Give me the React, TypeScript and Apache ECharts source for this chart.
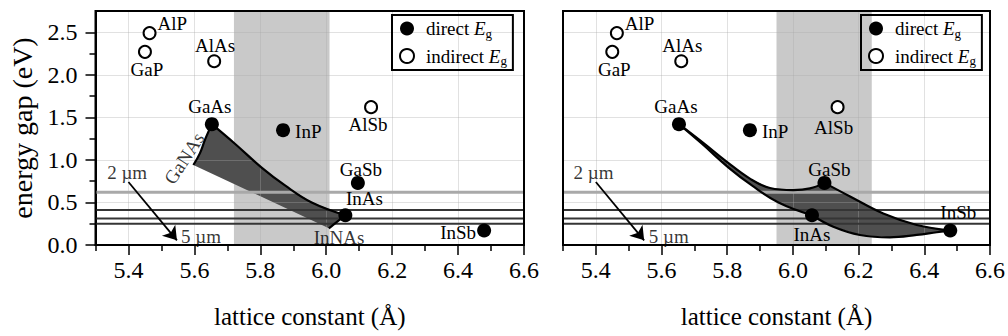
import React, { useEffect, useRef } from "react";
import * as echarts from "echarts";

const FONT = "Liberation Serif";

// axis ranges and ticks
const X_MIN = 5.3;
const X_MAX = 6.6;
const Y_MIN = 0;
const Y_MAX = 2.75;
const xMajorTicks = [5.4, 5.6, 5.8, 6.0, 6.2, 6.4, 6.6];
const xMinorTicks = [5.3, 5.5, 5.7, 5.9, 6.1, 6.3, 6.5];
const yMajorTicks = [0, 0.5, 1.0, 1.5, 2.0, 2.5];
const yMinorTicks = [0.25, 0.75, 1.25, 1.75, 2.25];

// binary compounds
const directNames = ["GaAs", "InP", "GaSb", "InAs", "InSb"];
const directLattice = [5.653, 5.869, 6.096, 6.058, 6.479];
const directGap = [1.42, 1.35, 0.73, 0.35, 0.17];
const indirectNames = ["AlP", "GaP", "AlAs", "AlSb"];
const indirectLattice = [5.464, 5.45, 5.66, 6.136];
const indirectGap = [2.49, 2.27, 2.16, 1.62];

// shaded lattice windows
const bandLeft = [5.72, 6.01];
const bandRight = [5.95, 6.24];

// wavelength lines (2, 3, 4, 5 µm)
const wavelengthGaps = [0.62, 0.41, 0.31, 0.25];
const arrowStart = [5.4, 0.74];
const arrowEnd = [5.547, 0.055];

// ternary curves
const gaasInasA = [5.653, 5.723, 5.804, 5.875, 5.956, 6.058];
const gaasInasE = [1.42, 1.19, 0.91, 0.7, 0.5, 0.35];
const ganasA = [5.653, 5.647, 5.632, 5.617, 5.597];
const ganasE = [1.42, 1.37, 1.235, 1.08, 0.94];
const innasA = [6.058, 6.008];
const innasE = [0.35, 0.196];
const gaasGasbA = [5.653, 5.727, 5.798, 5.869, 5.93, 6.001, 6.052, 6.096];
const gaasGasbE = [1.42, 1.2, 0.98, 0.78, 0.67, 0.645, 0.665, 0.73];
const gasbInsbA = [6.096, 6.174, 6.275, 6.377, 6.479];
const gasbInsbE = [0.73, 0.57, 0.37, 0.235, 0.17];
const inasInsbA = [6.058, 6.123, 6.204, 6.295, 6.377, 6.438, 6.479];
const inasInsbE = [0.35, 0.215, 0.118, 0.09, 0.118, 0.15, 0.17];

// free text annotations
const leftNotes = ["GaNAs", "InNAs", "2 µm", "5 µm"];
const leftNoteA = [5.569, 6.039, 5.396, 5.62];
const leftNoteE = [1.02, 0.094, 0.85, 0.1];
const rightNotes = ["2 µm", "5 µm"];
const rightNoteA = [5.393, 5.622];
const rightNoteE = [0.85, 0.105];

// label placement (style)
type LP = { position: string; offset: number[] };
const labelLeft: Record<string, LP> = {
  AlP: { position: "right", offset: [-4, -10] },
  GaP: { position: "bottom", offset: [2, -4] },
  AlAs: { position: "top", offset: [1, 6] },
  GaAs: { position: "top", offset: [-2, 4] },
  InP: { position: "right", offset: [0, 1] },
  AlSb: { position: "bottom", offset: [-3, -4] },
  GaSb: { position: "top", offset: [3, 8] },
  InAs: { position: "top", offset: [19, 5] },
  InSb: { position: "left", offset: [4, 2] },
};
const labelRight: Record<string, LP> = {
  ...labelLeft,
  GaAs: { position: "top", offset: [-3, 4] },
  AlSb: { position: "bottom", offset: [-4, -1] },
  GaSb: { position: "top", offset: [5, 8] },
  InAs: { position: "bottom", offset: [0, -2] },
  InSb: { position: "top", offset: [8, 3] },
};

const pts = (a: number[], e: number[]) => a.map((v, i) => [v, e[i]]);
const rev = (p: number[][]) => p.slice().reverse();

function buildPanel(p: number) {
  const xi = 2 * p;
  const yi = 2 * p;
  const series: any[] = [];
  const band = p === 0 ? bandLeft : bandRight;
  const labels = p === 0 ? labelLeft : labelRight;

  series.push({
    type: "custom",
    xAxisIndex: xi,
    yAxisIndex: yi,
    z: 0,
    silent: true,
    data: [band],
    renderItem: (params: any, api: any) => {
      const cs = params.coordSys;
      const x0 = api.coord([band[0], Y_MIN])[0];
      const x1 = api.coord([band[1], Y_MIN])[0];
      return {
        type: "rect",
        shape: { x: x0, y: cs.y, width: x1 - x0, height: cs.height },
        style: { fill: "#c9c9c9" },
      };
    },
  });

  let poly: number[][];
  if (p === 0) {
    poly = [
      ...pts(gaasInasA, gaasInasE),
      ...pts(innasA, innasE).slice(1),
      ...rev(pts(ganasA, ganasE)).slice(0, -1),
    ];
  } else {
    poly = [
      ...pts(gaasGasbA, gaasGasbE),
      ...pts(gasbInsbA, gasbInsbE).slice(1),
      ...rev(pts(inasInsbA, inasInsbE)).slice(1),
      ...rev(pts(gaasInasA, gaasInasE)).slice(1, -1),
    ];
  }
  series.push({
    type: "custom",
    xAxisIndex: xi,
    yAxisIndex: yi,
    z: 0.5,
    silent: true,
    data: [0],
    renderItem: (_params: any, api: any) => ({
      type: "polygon",
      shape: { points: poly.map((q) => api.coord(q)) },
      style: { fill: "#4f4f4f" },
    }),
  });

  wavelengthGaps.forEach((g, i) => {
    series.push({
      type: "line",
      xAxisIndex: xi,
      yAxisIndex: yi,
      z: 1.5,
      silent: true,
      symbol: "none",
      data: [
        [X_MIN, g],
        [X_MAX, g],
      ],
      lineStyle: i === 0 ? { color: "#a9a9a9", width: 3 } : { color: "#353535", width: 2 },
      markLine:
        i === 0
          ? {
              silent: true,
              symbol: ["none", "arrow"],
              symbolSize: 13,
              label: { show: false },
              lineStyle: { color: "#000", width: 1.8, type: "solid" },
              data: [[{ coord: arrowStart }, { coord: arrowEnd }]],
            }
          : undefined,
    });
  });

  const curves =
    p === 0
      ? [
          { d: pts(gaasInasA, gaasInasE), s: 0.4 },
          { d: pts(ganasA, ganasE), s: 0.4 },
          { d: pts(innasA, innasE), s: 0 },
        ]
      : [
          { d: pts(gaasInasA, gaasInasE), s: 0.4 },
          { d: pts(gaasGasbA, gaasGasbE), s: 0.4 },
          { d: pts(gasbInsbA, gasbInsbE), s: 0.4 },
          { d: pts(inasInsbA, inasInsbE), s: 0.4 },
        ];
  curves.forEach((c) =>
    series.push({
      type: "line",
      xAxisIndex: xi,
      yAxisIndex: yi,
      z: 3,
      silent: true,
      symbol: "none",
      smooth: c.s,
      data: c.d,
      lineStyle: { color: "#000", width: 2.2 },
    })
  );

  const labelFor = (n: string) => ({
    show: true,
    formatter: "{b}",
    fontFamily: FONT,
    fontSize: 19,
    color: "#000",
    distance: 5,
    position: labels[n].position,
    offset: labels[n].offset,
  });

  series.push({
    name: "direct",
    type: "scatter",
    xAxisIndex: xi,
    yAxisIndex: yi,
    z: 5,
    symbol: "circle",
    symbolSize: 14,
    itemStyle: { color: "#000", opacity: 1 },
    data: directNames.map((n, i) => ({
      name: n,
      value: [directLattice[i], directGap[i]],
      label: labelFor(n),
    })),
  });
  series.push({
    name: "indirect",
    type: "scatter",
    xAxisIndex: xi,
    yAxisIndex: yi,
    z: 5,
    symbol: "circle",
    symbolSize: 12,
    itemStyle: { color: "#fff", borderColor: "#000", borderWidth: 2, opacity: 1 },
    data: indirectNames.map((n, i) => ({
      name: n,
      value: [indirectLattice[i], indirectGap[i]],
      label: labelFor(n),
    })),
  });

  const notes = p === 0 ? leftNotes : rightNotes;
  const noteA = p === 0 ? leftNoteA : rightNoteA;
  const noteE = p === 0 ? leftNoteE : rightNoteE;
  series.push({
    type: "scatter",
    xAxisIndex: xi,
    yAxisIndex: yi,
    z: 6,
    silent: true,
    symbolSize: 0,
    data: notes.map((n, i) => ({
      name: n,
      value: [noteA[i], noteE[i]],
      label: {
        show: true,
        formatter: "{b}",
        position: "inside",
        fontFamily: FONT,
        fontSize: 19,
        color: "#000",
        rotate: n === "GaNAs" ? 57 : 0,
      },
    })),
  });

  return series;
}

function buildOption() {
  const gridLefts = [95.5, 563];
  const gridWidths = [428.5, 427.5];
  const grids = [0, 1].map((p) => ({
    left: gridLefts[p],
    top: 11,
    width: gridWidths[p],
    height: 234,
    show: true,
    borderColor: "#000",
    borderWidth: 2,
    z: 2,
  }));

  const splitStyle = { show: true, lineStyle: { color: "rgba(170,170,170,0.35)", width: 1 } };

  const xAxes: any[] = [];
  const yAxes: any[] = [];
  [0, 1].forEach((p) => {
    xAxes.push({
      type: "value",
      gridIndex: p,
      min: X_MIN,
      max: X_MAX,
      position: "bottom",
      z: 1,
      name: "lattice constant (Å)",
      nameLocation: "middle",
      nameGap: 59,
      nameTextStyle: { fontFamily: FONT, fontSize: 25, color: "#000" },
      axisLine: { show: true, lineStyle: { color: "#000", width: 2 } },
      axisTick: { show: true, inside: false, length: 10, customValues: xMajorTicks, lineStyle: { color: "#000", width: 1.5 } },
      axisLabel: {
        show: true,
        customValues: xMajorTicks,
        margin: 13,
        fontFamily: FONT,
        fontSize: 24,
        color: "#000",
        formatter: (v: number) => v.toFixed(1),
      },
      splitLine: splitStyle,
    });
    xAxes.push({
      type: "value",
      gridIndex: p,
      min: X_MIN,
      max: X_MAX,
      position: "bottom",
      z: 1,
      axisLine: { show: false },
      axisTick: { show: true, inside: false, length: 6, customValues: xMinorTicks, lineStyle: { color: "#000", width: 1.5 } },
      axisLabel: { show: false },
      splitLine: { show: false },
    });
    yAxes.push({
      type: "value",
      gridIndex: p,
      min: Y_MIN,
      max: Y_MAX,
      position: "left",
      z: 1,
      name: p === 0 ? "energy gap (eV)" : "",
      nameLocation: "middle",
      nameGap: 59,
      nameTextStyle: { fontFamily: FONT, fontSize: 28, color: "#000" },
      axisLine: { show: true, lineStyle: { color: "#000", width: 2 } },
      axisTick: {
        show: p === 0,
        inside: false,
        length: 10,
        customValues: yMajorTicks,
        lineStyle: { color: "#000", width: 1.5 },
      },
      axisLabel: {
        show: p === 0,
        customValues: yMajorTicks,
        margin: 18,
        fontFamily: FONT,
        fontSize: 24,
        color: "#000",
        formatter: (v: number) => v.toFixed(1),
      },
      splitLine: splitStyle,
    });
    yAxes.push({
      type: "value",
      gridIndex: p,
      min: Y_MIN,
      max: Y_MAX,
      position: "left",
      z: 1,
      axisLine: { show: false },
      axisTick: {
        show: p === 0,
        inside: false,
        length: 6,
        customValues: yMinorTicks,
        lineStyle: { color: "#000", width: 1.5 },
      },
      axisLabel: { show: false },
      splitLine: { show: false },
    });
  });

  const legendLefts = [392, 861];
  const legends = [0, 1].map((p) => ({
    show: true,
    data: [
      { name: "direct", icon: "circle" },
      { name: "indirect", icon: "circle" },
    ],
    orient: "vertical",
    left: legendLefts[p],
    top: 15,
    padding: [4, 6, 3, 7],
    itemGap: 7,
    itemWidth: 14,
    itemHeight: 14,
    borderColor: "#000",
    borderWidth: 2,
    selectedMode: false,
    z: 7,
    formatter: (n: string) => `{t|${n} }{e|E}{s|g}`,
    textStyle: {
      fontFamily: FONT,
      fontSize: 19,
      color: "#000",
      rich: {
        t: { fontFamily: FONT, fontSize: 19, color: "#000", padding: [0, 0, 0, 7], lineHeight: 22, verticalAlign: "middle" },
        e: { fontFamily: FONT, fontSize: 19, color: "#000", fontStyle: "italic", lineHeight: 22, verticalAlign: "middle" },
        s: { fontFamily: FONT, fontSize: 13, color: "#000", lineHeight: 22, verticalAlign: "bottom" },
      },
    },
  }));

  return {
    animation: false,
    backgroundColor: "#fff",
    textStyle: { fontFamily: FONT },
    grid: grids,
    xAxis: xAxes,
    yAxis: yAxes,
    legend: legends,
    series: [...buildPanel(0), ...buildPanel(1)],
  };
}

export default function App() {
  const ref = useRef<HTMLDivElement>(null);
  useEffect(() => {
    if (!ref.current) return;
    const chart = echarts.init(ref.current, undefined, { renderer: "svg" });
    chart.setOption(buildOption() as any);
    return () => chart.dispose();
  }, []);
  return (
    <div
      ref={ref}
      style={{ position: "fixed", left: 0, top: 0, width: 1008, height: 336, background: "#fff" }}
    />
  );
}
